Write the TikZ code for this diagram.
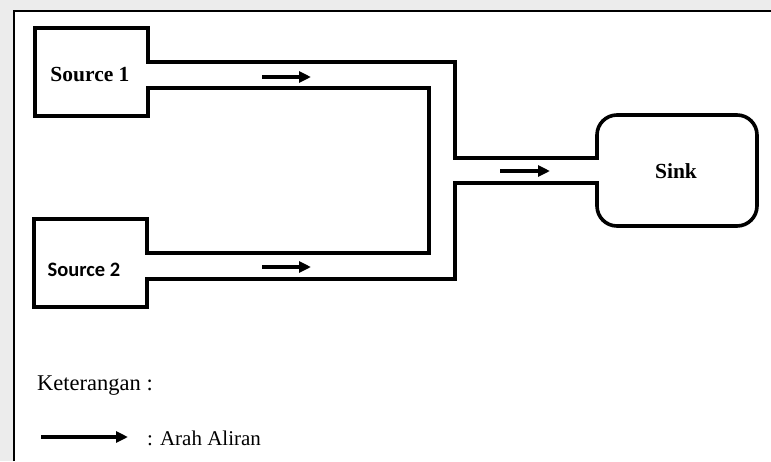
\documentclass[tikz,border=0pt]{standalone}
\usepackage{fontspec}
\setmainfont{Liberation Serif}
\newfontfamily\calfont{Carlito}
\usetikzlibrary{arrows.meta}
\begin{document}
\begin{tikzpicture}[x=1pt,y=-1pt,
  wall/.style={line width=3.6pt,line join=miter},
  flow/.style={line width=3.4pt,-{Triangle[length=12pt,width=11pt]}},
  lbl/.style={inner sep=0pt,font=\fontsize{21.5}{24}\selectfont\bfseries},
  txt/.style={inner sep=0pt,anchor=west,font=\fontsize{21}{24}\selectfont}]
\useasboundingbox (0,0) rectangle (771,461);
% background outside the frame
\fill[gray!15] (0,0) rectangle (771,461);
\fill[white] (14,11) rectangle (771,461);
\draw[line width=2pt] (14,461) -- (14,11) -- (771,11);
% named corners of the pipe network
\coordinate (s1a) at (148,62);
\coordinate (s1b) at (148,88);
\coordinate (s2a) at (147,253);
\coordinate (s2b) at (147,279);
\coordinate (ia) at (429,88);
\coordinate (ib) at (429,253);
\coordinate (oa) at (455,62);
\coordinate (ob) at (455,158);
\coordinate (oc) at (455,183);
\coordinate (oe) at (455,279);
\coordinate (ka) at (597,158);
\coordinate (kb) at (597,183);
% outline: source 1, pipes, source 2, sink
\draw[wall] (s1a) -- (148,28) -- (35,28) -- (35,116) -- (148,116) -- (s1b)
  -- (ia) -- (ib) -- (s2a) -- (147,219) -- (34,219) -- (34,307) -- (147,307)
  -- (s2b) -- (oe) -- (oc) -- (kb)
  [rounded corners=20pt] -- (597,226) -- (757,226) -- (757,115) -- (597,115)
  [sharp corners] -- (ka) -- (ob) -- (oa) -- cycle;
% labels
\node[lbl] (src1) at (90,75) {Source 1};
\node[lbl,font=\calfont\fontsize{20.5}{24}\selectfont\bfseries] (src2) at (84,270) {Source 2};
\node[lbl] (sink) at (676,171) {Sink};
% flow arrows
\coordinate (a1s) at (262,77); \coordinate (a1e) at (311,77);
\coordinate (a2s) at (262,267); \coordinate (a2e) at (311,267);
\coordinate (a3s) at (500,171); \coordinate (a3e) at (550,171);
\draw[flow] (a1s) -- (a1e);
\draw[flow] (a2s) -- (a2e);
\draw[flow] (a3s) -- (a3e);
% legend
\node[txt,font=\fontsize{22.5}{24}\selectfont] (ket) at (37,386) {Keterangan :};
\coordinate (ls) at (41,437); \coordinate (le) at (128,437);
\draw[flow] (ls) -- (le);
\node[txt] (arah) at (147,438) {: Arah Aliran};
\end{tikzpicture}
\end{document}
